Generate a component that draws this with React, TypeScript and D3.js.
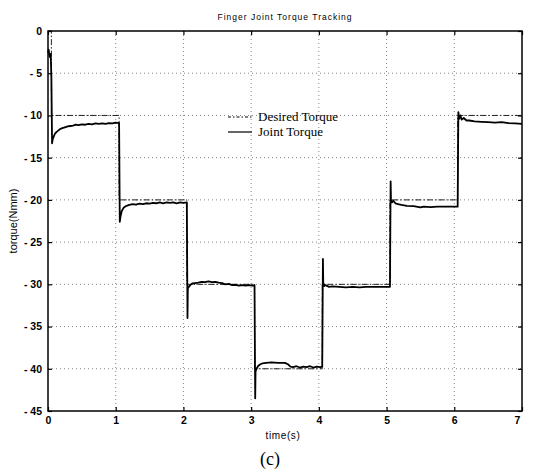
import React, { useEffect, useRef } from 'react';
import * as d3 from 'd3';

// desired torque steps (step-after)
const desiredTime = [0, 0.05, 1.05, 2.05, 3.05, 4.05, 5.05, 6.05, 7];
const desiredTorque = [0, -10, -20, -30, -40, -30, -20, -10, -10];

// measured joint torque [time (s), torque (Nmm)]
const jointTorque: [number, number][] = [
  [0.0, -2.6], [0.01, -2.2], [0.02, -2.9], [0.03, -3.1], [0.04, -2.7], [0.05, -5.5],
  [0.06, -13.3], [0.07, -12.8], [0.08, -12.6], [0.1, -12.2], [0.12, -12.0], [0.15, -11.8],
  [0.18, -11.6], [0.21, -11.5], [0.25, -11.4], [0.29, -11.3], [0.33, -11.25], [0.37, -11.2],
  [0.41, -11.1], [0.45, -11.15], [0.5, -11.05], [0.55, -11.1], [0.6, -11.0], [0.65, -11.05],
  [0.7, -10.95], [0.75, -11.0], [0.8, -10.95], [0.85, -11.0], [0.9, -10.9], [0.95, -10.95],
  [1.0, -10.85], [1.05, -10.9],
  [1.06, -22.6], [1.07, -22.0], [1.09, -21.3], [1.12, -20.9], [1.16, -20.7], [1.2, -20.6],
  [1.25, -20.5], [1.3, -20.55], [1.35, -20.45], [1.4, -20.5], [1.45, -20.4], [1.5, -20.45],
  [1.55, -20.35], [1.6, -20.4], [1.65, -20.3], [1.7, -20.4], [1.75, -20.3], [1.8, -20.35],
  [1.85, -20.3], [1.9, -20.4], [1.95, -20.3], [2.0, -20.35], [2.05, -20.3],
  [2.06, -34.0], [2.065, -30.5], [2.08, -30.3], [2.1, -30.1], [2.13, -29.9], [2.17, -29.85],
  [2.22, -29.8], [2.27, -29.7], [2.32, -29.75], [2.37, -29.65], [2.42, -29.75], [2.47, -29.7],
  [2.52, -29.8], [2.57, -29.85], [2.62, -30.0], [2.67, -29.95], [2.72, -30.1], [2.77, -30.05],
  [2.82, -30.15], [2.87, -30.1], [2.92, -30.15], [2.97, -30.1], [3.02, -30.15], [3.05, -30.1],
  [3.06, -43.5], [3.065, -40.3], [3.08, -40.0], [3.1, -39.7], [3.13, -39.5], [3.17, -39.35],
  [3.22, -39.3], [3.3, -39.25], [3.4, -39.3], [3.5, -39.3], [3.55, -39.5], [3.58, -39.75],
  [3.62, -39.8], [3.67, -39.7], [3.72, -39.85], [3.77, -39.75], [3.82, -39.8], [3.87, -39.7],
  [3.92, -39.85], [3.97, -39.75], [4.02, -39.8], [4.05, -39.75],
  [4.06, -27.0], [4.065, -29.8], [4.08, -30.2], [4.1, -30.1], [4.15, -30.3], [4.2, -30.25],
  [4.3, -30.3], [4.4, -30.35], [4.5, -30.3], [4.6, -30.35], [4.7, -30.3], [4.8, -30.3],
  [4.9, -30.3], [5.0, -30.3], [5.05, -30.3],
  [5.06, -17.8], [5.065, -20.0], [5.08, -20.3], [5.1, -20.1], [5.13, -20.4], [5.17, -20.5],
  [5.22, -20.6], [5.3, -20.7], [5.4, -20.75], [5.5, -20.9], [5.55, -20.8], [5.65, -20.85],
  [5.75, -20.8], [5.85, -20.8], [5.95, -20.8], [6.05, -20.8],
  [6.06, -9.6], [6.07, -10.4], [6.09, -10.0], [6.11, -10.5], [6.14, -10.3], [6.18, -10.6],
  [6.22, -10.6], [6.3, -10.7], [6.4, -10.75], [6.5, -10.8], [6.6, -10.85], [6.7, -10.8],
  [6.8, -10.9], [6.9, -10.95], [7.0, -11.0],
];

const xTicks = [0, 1, 2, 3, 4, 5, 6, 7];
const yTicks = [0, -5, -10, -15, -20, -25, -30, -35, -40, -45];

const App = () => {
  const svgRef = useRef<SVGSVGElement>(null);

  useEffect(() => {
    const width = 534;
    const height = 475;
    const margin = { top: 31, right: 12, bottom: 64, left: 48 };
    const font = 'Arial, "Liberation Sans", sans-serif';
    const serif = '"Liberation Serif", "Times New Roman", serif';

    const svg = d3.select(svgRef.current);
    svg.selectAll('*').remove();
    svg.attr('width', width).attr('height', height);

    const x = d3.scaleLinear().domain([0, 7]).range([margin.left, width - margin.right]);
    const y = d3.scaleLinear().domain([-45, 0]).range([height - margin.bottom, margin.top]);

    // grid
    const grid = svg.append('g').attr('stroke', '#666').attr('stroke-width', 0.8)
      .attr('stroke-dasharray', '1,3');
    xTicks.slice(1, -1).forEach(t => {
      grid.append('line').attr('x1', x(t)).attr('x2', x(t))
        .attr('y1', y(0)).attr('y2', y(-45));
    });
    yTicks.slice(1, -1).forEach(t => {
      grid.append('line').attr('x1', x(0)).attr('x2', x(7))
        .attr('y1', y(t)).attr('y2', y(t));
    });

    // desired torque
    const desired = desiredTime.map((t, i) => [t, desiredTorque[i]] as [number, number]);
    svg.append('path')
      .datum(desired)
      .attr('fill', 'none')
      .attr('stroke', '#222')
      .attr('stroke-width', 1)
      .attr('stroke-dasharray', '6,2,1.5,2')
      .attr('d', d3.line().x(d => x(d[0])).y(d => y(d[1])).curve(d3.curveStepAfter));

    // joint torque
    svg.append('path')
      .datum(jointTorque)
      .attr('fill', 'none')
      .attr('stroke', '#000')
      .attr('stroke-width', 1.8)
      .attr('stroke-linejoin', 'round')
      .attr('d', d3.line().x(d => x(d[0])).y(d => y(d[1])));

    // frame
    svg.append('rect')
      .attr('x', x(0)).attr('y', y(0))
      .attr('width', x(7) - x(0)).attr('height', y(-45) - y(0))
      .attr('fill', 'none').attr('stroke', '#000').attr('stroke-width', 1.5);

    const fmt = (d: number) => (d < 0 ? `- ${-d}` : `${d}`);

    // axes with inward ticks
    const xAxis = svg.append('g')
      .attr('transform', `translate(0,${y(-45)})`)
      .call(d3.axisBottom(x).tickValues(xTicks).tickSize(-4).tickPadding(6).tickFormat(d => fmt(+d)));
    svg.append('g')
      .attr('transform', `translate(0,${y(0)})`)
      .call(d3.axisTop(x).tickValues(xTicks).tickSize(-4).tickFormat(() => ''));
    const yAxis = svg.append('g')
      .attr('transform', `translate(${x(0)},0)`)
      .call(d3.axisLeft(y).tickValues(yTicks).tickSize(-4).tickPadding(6).tickFormat(d => fmt(+d)));
    svg.append('g')
      .attr('transform', `translate(${x(7)},0)`)
      .call(d3.axisRight(y).tickValues(yTicks).tickSize(-4).tickFormat(() => ''));

    svg.selectAll('.domain').remove();
    svg.selectAll('.tick line').attr('stroke', '#000').attr('stroke-width', 1.2);
    [xAxis, yAxis].forEach(a => a.selectAll('text')
      .attr('font-family', font).attr('font-size', 10.5).attr('font-weight', 'bold').attr('fill', '#000'));
    xAxis.selectAll<SVGTextElement, number>('text')
      .filter(d => d === 7).attr('dx', -5);

    // title and labels
    svg.append('text')
      .attr('x', (x(0) + x(7)) / 2).attr('y', 20)
      .attr('text-anchor', 'middle')
      .attr('font-family', font).attr('font-size', 8.5).attr('letter-spacing', 1)
      .text('Finger Joint Torque Tracking');
    svg.append('text')
      .attr('x', (x(0) + x(7)) / 2 - 2).attr('y', 439)
      .attr('text-anchor', 'middle')
      .attr('font-family', font).attr('font-size', 10).attr('letter-spacing', 0.6)
      .text('time(s)');
    svg.append('text')
      .attr('transform', `translate(17,${(y(0) + y(-45)) / 2}) rotate(-90)`)
      .attr('text-anchor', 'middle')
      .attr('font-family', font).attr('font-size', 11)
      .text('torque(Nmm)');
    svg.append('text')
      .attr('x', 270).attr('y', 465)
      .attr('text-anchor', 'middle')
      .attr('font-family', serif).attr('font-size', 18)
      .text('(c)');

    // legend
    const legend = svg.append('g').attr('transform', 'translate(228,117)');
    legend.append('line').attr('x1', 0).attr('x2', 24).attr('y1', 0).attr('y2', 0)
      .attr('stroke', '#000').attr('stroke-dasharray', '3,2,1.5,2');
    legend.append('line').attr('x1', 0).attr('x2', 24).attr('y1', 15).attr('y2', 15)
      .attr('stroke', '#000').attr('stroke-width', 1.2);
    legend.append('text').attr('x', 30).attr('y', 4)
      .attr('font-family', serif).attr('font-size', 13)
      .text('Desired Torque');
    legend.append('text').attr('x', 30).attr('y', 19)
      .attr('font-family', serif).attr('font-size', 13)
      .text('Joint Torque');
  }, []);

  return (
    <svg ref={svgRef} style={{ position: 'absolute', left: 0, top: 0, background: '#fff' }}></svg>
  );
};

export default App;
